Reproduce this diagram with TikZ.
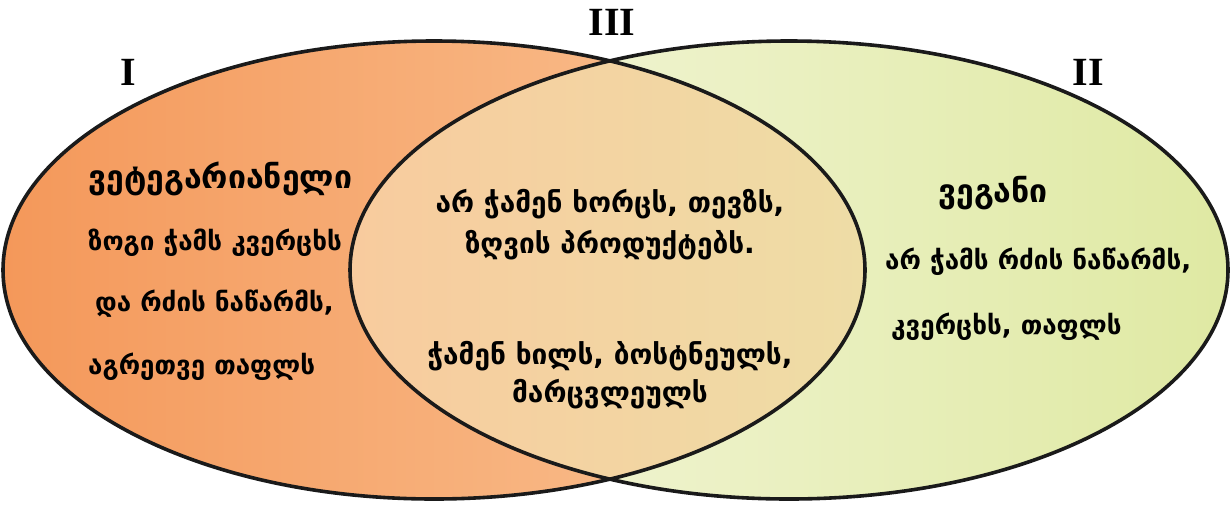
\documentclass[tikz,border=0pt]{standalone}
\usepackage{fontspec}
\newfontfamily\geo[Script=Georgian]{DejaVu Sans}
\newfontfamily\rom{Liberation Serif}
\definecolor{orL}{HTML}{F4985A}
\definecolor{orR}{HTML}{FAC597}
\definecolor{midL}{HTML}{F8CB9E}
\definecolor{midR}{HTML}{EEDDA6}
\definecolor{grL}{HTML}{F5F7DE}
\definecolor{grR}{HTML}{DFE9A3}
\definecolor{edge}{HTML}{1A1A1A}
\begin{document}
\begin{tikzpicture}[x=1pt,y=-1pt,
  geotext/.style={font=\geo\bfseries\fontsize{26}{30}\selectfont, inner sep=0pt},
  geomid/.style={font=\geo\bfseries\fontsize{28}{32}\selectfont, inner sep=0pt},
  geotitle/.style={font=\geo\bfseries\fontsize{32}{38}\selectfont, inner sep=0pt},
  romtext/.style={font=\rom\bfseries\fontsize{40}{44}\selectfont, inner sep=0pt},
  outline/.style={draw=edge, line width=3.6pt}]
\useasboundingbox (0,0) rectangle (1231,507);
\fill[white] (0,0) rectangle (1231,507);
% right ellipse II
\path[left color=grL, right color=grR] (789,270) ellipse [x radius=439, y radius=229];
% left ellipse I
\path[left color=orL, right color=orR] (434,270) ellipse [x radius=431, y radius=229];
% intersection III
\begin{scope}
  \clip (434,270) ellipse [x radius=431, y radius=229];
  \clip (789,270) ellipse [x radius=439, y radius=229];
  \path[left color=midL, right color=midR] (350,41) rectangle (866,499);
\end{scope}
\draw[outline] (434,270) ellipse [x radius=431, y radius=229];
\draw[outline] (789,270) ellipse [x radius=439, y radius=229];
% labels
\node[romtext] (nI) at (128,72) {I};
\node[romtext] (nII) at (1088,72) {II};
\node[romtext] (nIII) at (612,22) {III};
% left text
\node[geotitle, anchor=west] (l1) at (88,179) {ვეტეგარიანელი};
\node[geotext, anchor=west] (l2) at (88,243) {ზოგი ჭამს კვერცხს};
\node[geotext, anchor=west] (l3) at (95,304) {და რძის ნაწარმს,};
\node[geotext, anchor=west] (l4) at (88,367) {აგრეთვე თაფლს};
% middle text
\node[geomid] (m1) at (610,204) {არ ჭამენ ხორცს, თევზს,};
\node[geomid] (m2) at (610,245) {ზღვის პროდუქტებს.};
\node[geomid] (m3) at (610,356) {ჭამენ ხილს, ბოსტნეულს,};
\node[geomid] (m4) at (610,394) {მარცვლეულს};
% right text
\node[geotitle, anchor=west] (r1) at (938,193) {ვეგანი};
\node[geotext, anchor=west] (r2) at (885,262) {არ ჭამს რძის ნაწარმს,};
\node[geotext, anchor=west] (r3) at (891,327) {კვერცხს, თაფლს};
\end{tikzpicture}
\end{document}
